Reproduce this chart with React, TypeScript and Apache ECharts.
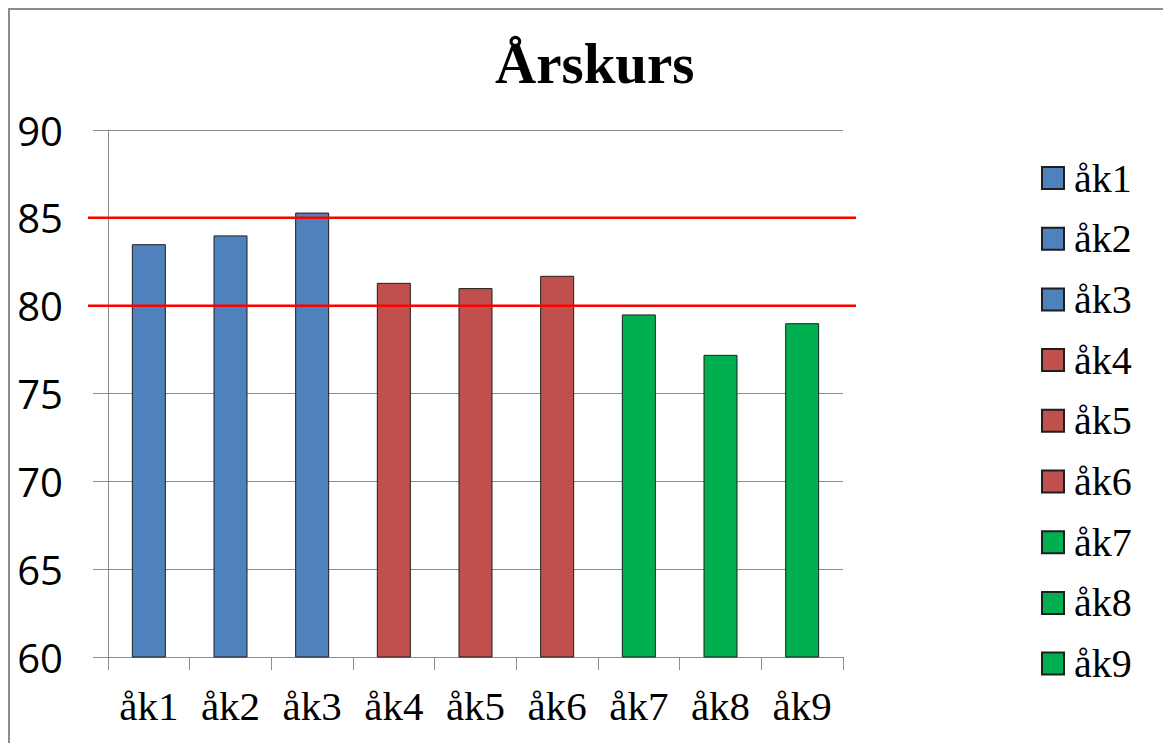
import React, { useEffect, useRef } from "react";
import * as echarts from "echarts";

const categories = ["åk1", "åk2", "åk3", "åk4", "åk5", "åk6", "åk7", "åk8", "åk9"];
const values = [83.5, 84.0, 85.3, 81.3, 81.0, 81.7, 79.5, 77.2, 79.0];
const barColors = ["#4F81BD", "#4F81BD", "#4F81BD", "#C0504D", "#C0504D", "#C0504D", "#00B050", "#00B050", "#00B050"];
const thresholds = [85, 80];
const titleText = "Årskurs";

const SERIF = "Liberation Serif";
const SANS = "Open Sans";

export default function App() {
  const ref = useRef<HTMLDivElement>(null);
  useEffect(() => {
    document.body.style.overflow = "hidden";
    const chart = echarts.init(ref.current!, null, { renderer: "svg" });
    const series = categories.map((name, i) => ({
      name,
      type: "bar",
      barWidth: 34,
      barGap: "-100%",
      data: categories.map((_, j) => (j === i ? values[i] : "-")),
      itemStyle: { color: barColors[i], borderColor: "#1e1e1e", borderWidth: 1 },
    }));
    const legendText = { fontFamily: SERIF, fontSize: 40, lineHeight: 40, color: "#000" };
    chart.setOption({
      animation: false,
      textStyle: { fontFamily: SERIF },
      title: {
        text: titleText,
        left: 482,
        top: 22,
        textStyle: { fontFamily: SERIF, fontWeight: "bold", fontSize: 57, color: "#000" },
      },
      legend: {
        orient: "vertical",
        left: 1028,
        top: 145,
        itemWidth: 22,
        itemHeight: 22,
        itemGap: 20.7,
        icon: "rect",
        data: categories.map((name) => ({ name, textStyle: legendText })),
        formatter: "{t|{name}}",
        textStyle: {
          ...legendText,
          rich: { t: { fontFamily: SERIF, fontSize: 40, lineHeight: 40, color: "#000", padding: [0, 0, 0, 5] } },
        },
      },
      grid: { left: 100, right: 328, top: 122, bottom: 86 },
      xAxis: {
        type: "category",
        data: categories,
        axisLine: { lineStyle: { color: "#8c8c8c", width: 1 } },
        axisTick: { show: true, length: 13, lineStyle: { color: "#8c8c8c" } },
        axisLabel: { fontFamily: SERIF, fontSize: 41, color: "#000", margin: 28 },
      },
      yAxis: {
        type: "value",
        min: 60,
        max: 90,
        interval: 5,
        axisLine: { show: true, lineStyle: { color: "#8c8c8c", width: 1 } },
        axisTick: { show: true, length: 15, lineStyle: { color: "#8c8c8c" } },
        splitLine: { lineStyle: { color: "#8c8c8c", width: 1 } },
        axisLabel: { fontFamily: SANS, fontSize: 40, color: "#000", margin: 45 },
      },
      series,
    });
    const graphics: any[] = [
      {
        type: "polyline",
        shape: { points: [[1, 735], [1, 1], [1163, 1]] },
        style: { stroke: "#8c8c8c", lineWidth: 2, fill: null },
        silent: true,
      },
    ];
    thresholds.forEach((t) => {
      const y = chart.convertToPixel({ yAxisIndex: 0 }, t) as number;
      graphics.push({
        type: "line",
        shape: { x1: 80, y1: y, x2: 848, y2: y },
        style: { stroke: "#FF0000", lineWidth: 2.5 },
        z: 10,
        silent: true,
      });
    });
    chart.setOption({ graphic: graphics });
    return () => chart.dispose();
  }, []);
  return <div ref={ref} style={{ width: 1163, height: 735 }} />;
}
